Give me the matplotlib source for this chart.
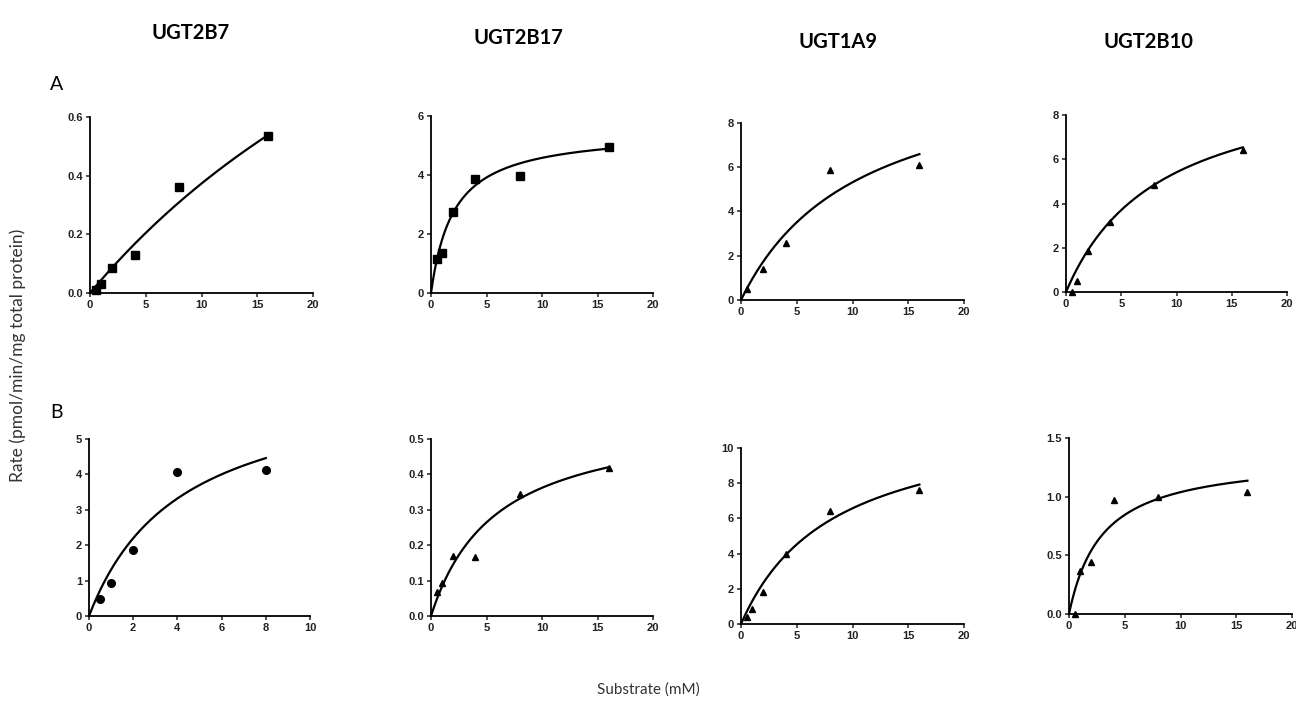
import numpy as np
import matplotlib
matplotlib.use("Agg")
import matplotlib.pyplot as plt

# ---- data ----
titles = ["UGT2B7", "UGT2B17", "UGT1A9", "UGT2B10"]
row_labels = ["A", "B"]

substrate = [0.5, 1, 2, 4, 8, 16]
substrate_b1 = [0.5, 1, 2, 4, 8]

a_ugt2b7 = [0.01, 0.03, 0.085, 0.13, 0.36, 0.535]
a_ugt2b17 = [1.16, 1.36, 2.75, 3.88, 3.96, 4.94]
a_ugt1a9 = [0.48, None, 1.38, 2.56, 5.89, 6.12]
a_ugt2b10 = [0.0, 0.5, 1.86, 3.17, 4.83, 6.42]

b_ugt2b7 = [0.47, 0.94, 1.86, 4.06, 4.12]
b_ugt2b17 = [0.069, 0.093, 0.17, 0.167, 0.346, 0.417]
b_ugt1a9 = [0.42, 0.85, 1.8, 3.97, 6.43, 7.6]
b_ugt2b10 = [0.0, 0.37, 0.44, 0.97, 1.0, 1.04]

# Michaelis-Menten fit parameters
vmax_a = [2.09, 5.52, 10.96, 10.03]
km_a = [46.0, 2.05, 10.6, 8.54]
vmax_b = [6.79, 0.574, 12.03, 1.347]
km_b = [4.18, 5.85, 8.3, 2.97]

ymax_a = [0.6, 6, 8, 8]
ystep_a = [0.2, 2, 2, 2]
ymax_b = [5, 0.5, 10, 1.5]
ystep_b = [1, 0.1, 2, 0.5]
yfmt_a = ["{:.1f}", "{:.0f}", "{:.0f}", "{:.0f}"]
yfmt_b = ["{:.0f}", "{:.1f}", "{:.0f}", "{:.1f}"]

# ---- layout (pixel boxes: left, right, top, bottom) ----
W, H = 1296, 706
boxes_a = [(90, 313, 117, 293), (431, 653, 116, 293), (741, 964, 123, 300), (1066, 1287, 115, 292)]
boxes_b = [(89, 310, 439, 616), (431, 653, 439, 616), (741, 964, 448, 624), (1069, 1292, 438, 614)]
markers_a = ["s", "s", "^", "^"]
markers_b = ["o", "^", "^", "^"]

fig = plt.figure(figsize=(W / 100, H / 100), dpi=100)
fig.patch.set_facecolor("white")

tick_font = dict(family=["Liberation Sans", "DejaVu Sans"], weight="bold", size=8)


def make_ax(box, xs, ys, vmax, km, ymax, ystep, yfmt, marker, xmax, xstep, xend):
    l, r, t, b = box
    ax = fig.add_axes([l / W, 1 - b / H, (r - l) / W, (b - t) / H])
    pts = [(x, y) for x, y in zip(xs, ys) if y is not None]
    px = [p[0] for p in pts]
    py = [p[1] for p in pts]
    xx = np.linspace(0, xend, 200)
    ax.plot(xx, vmax * xx / (km + xx), color="black", lw=1.6, clip_on=False, zorder=2)
    ms = {"s": 5.5, "o": 5.5, "^": 5}[marker]
    ax.plot(px, py, linestyle="none", marker=marker, color="black", ms=ms, clip_on=False, zorder=3)
    ax.set_xlim(0, xmax)
    ax.set_ylim(0, ymax)
    ax.set_xticks(np.arange(0, xmax + 0.001, xstep))
    yt = np.arange(0, ymax + 1e-9, ystep)
    ax.set_yticks(yt)
    ax.set_yticklabels([yfmt.format(v) for v in yt], fontdict=tick_font)
    ax.set_xticklabels(["{:.0f}".format(v) for v in np.arange(0, xmax + 0.001, xstep)], fontdict=tick_font)
    for s in ["top", "right"]:
        ax.spines[s].set_visible(False)
    for s in ["left", "bottom"]:
        ax.spines[s].set_linewidth(1.3)
    ax.tick_params(direction="out", length=3, width=1.1, pad=2, colors="#222222")
    ax.set_facecolor("none")
    return ax


data_a = [a_ugt2b7, a_ugt2b17, a_ugt1a9, a_ugt2b10]
data_b = [b_ugt2b7, b_ugt2b17, b_ugt1a9, b_ugt2b10]

for i in range(4):
    make_ax(boxes_a[i], substrate, data_a[i], vmax_a[i], km_a[i], ymax_a[i], ystep_a[i],
            yfmt_a[i], markers_a[i], 20, 5, 16)
for i in range(4):
    if i == 0:
        make_ax(boxes_b[i], substrate_b1, data_b[i], vmax_b[i], km_b[i], ymax_b[i], ystep_b[i],
                yfmt_b[i], markers_b[i], 10, 2, 8)
    else:
        make_ax(boxes_b[i], substrate, data_b[i], vmax_b[i], km_b[i], ymax_b[i], ystep_b[i],
                yfmt_b[i], markers_b[i], 20, 5, 16)

# column titles
title_pos = [(191, 33), (518, 38), (838, 42), (1148, 42)]
for t, (x, y) in zip(titles, title_pos):
    fig.text(x / W, 1 - y / H, t, ha="center", va="center", fontsize=14.5, weight="bold",
             family=["Lato", "DejaVu Sans"])

# row labels
fig.text(57 / W, 1 - 85 / H, row_labels[0], ha="center", va="center", fontsize=14,
         family=["Lato", "DejaVu Sans"])
fig.text(57 / W, 1 - 412 / H, row_labels[1], ha="center", va="center", fontsize=14,
         family=["Lato", "DejaVu Sans"])

fig.text(18 / W, 1 - 355 / H, "Rate (pmol/min/mg total protein)", rotation=90, ha="center",
         va="center", fontsize=12.5, family=["Lato", "DejaVu Sans"], color="#333333")
fig.text(648 / W, 1 - 690 / H, "Substrate (mM)", ha="center", va="center", fontsize=11,
         family=["Lato", "DejaVu Sans"], color="#333333")

fig.savefig("out.png", dpi=100, facecolor="white")
